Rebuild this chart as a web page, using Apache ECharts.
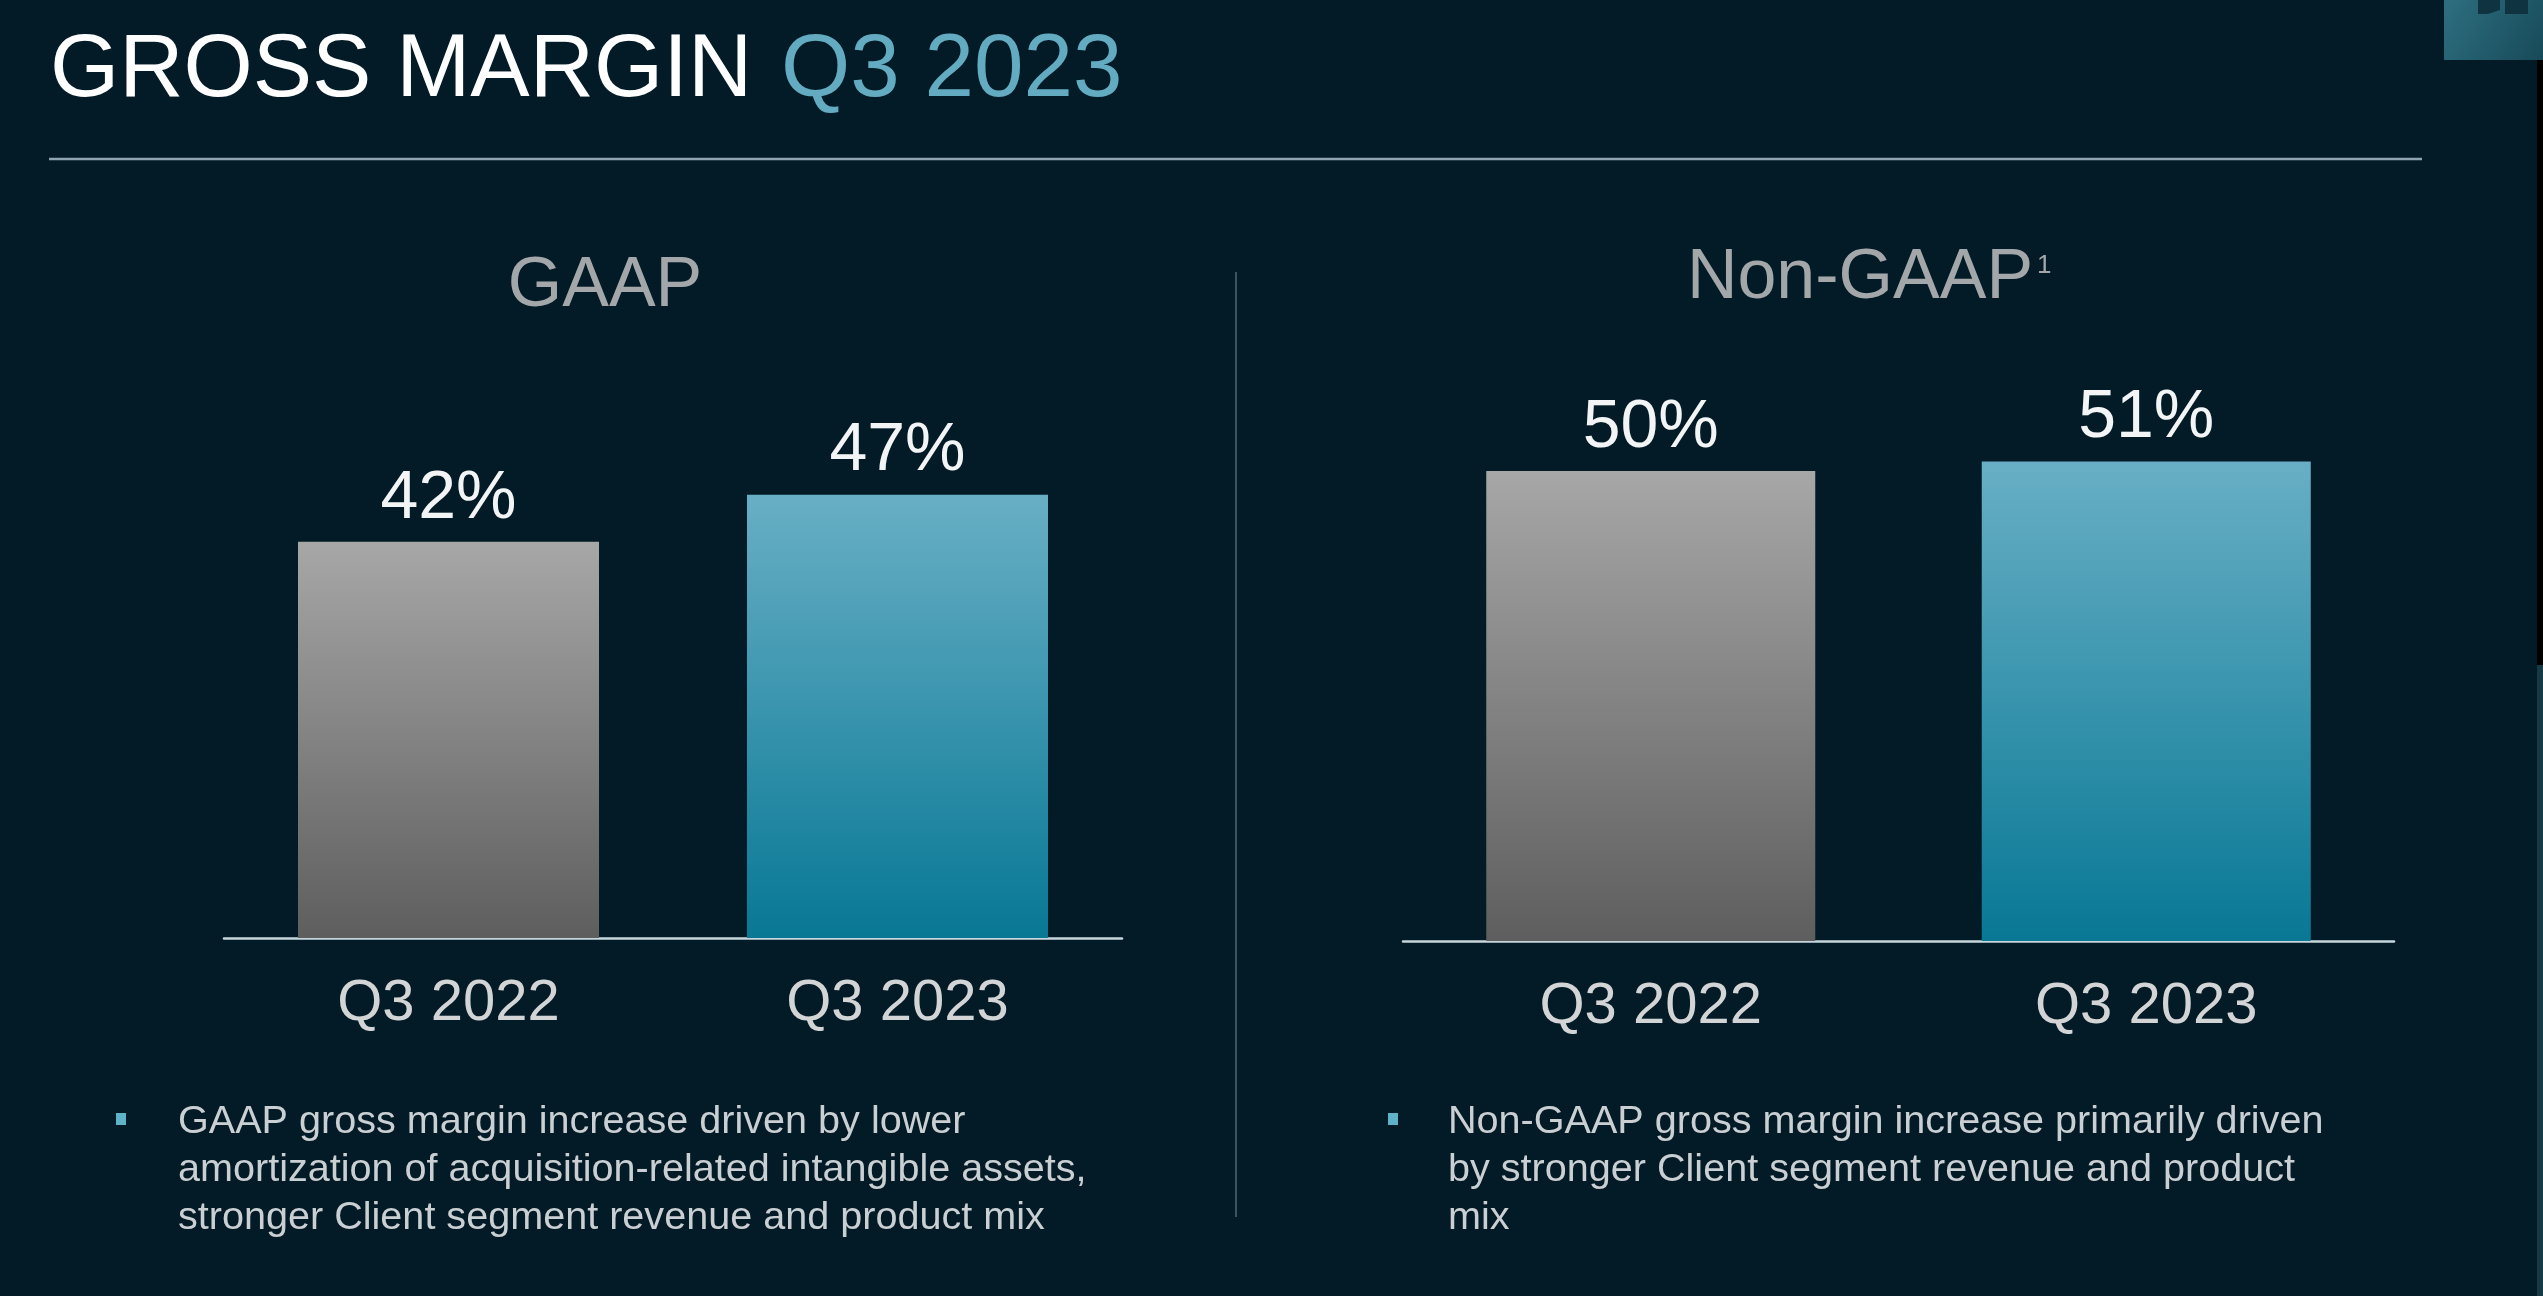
<!DOCTYPE html>
<html>
<head>
<meta charset="utf-8">
<script src="https://cdn.jsdelivr.net/npm/echarts@6/dist/echarts.min.js"></script>
<style>
html,body{margin:0;padding:0;background:#021b26;}
#chart{width:2543px;height:1296px;}
</style>
</head>
<body>
<div id="chart"></div>
<script>
const categories = ['Q3 2022', 'Q3 2023'];
const gaapValues = [42, 47];
const nonGaapValues = [50, 51];
const panelTitles = ['GAAP', 'Non-GAAP'];
const bulletLeft = ['GAAP gross margin increase driven by lower', 'amortization of acquisition-related intangible assets,', 'stronger Client segment revenue and product mix'];
const bulletRight = ['Non-GAAP gross margin increase primarily driven', 'by stronger Client segment revenue and product', 'mix'];

const FONT = "'Liberation Sans', Arial, sans-serif";
const grayGrad = new echarts.graphic.LinearGradient(0, 0, 0, 1, [{offset: 0, color: '#a7a7a7'}, {offset: 1, color: '#5e5e5e'}]);
const tealGrad = new echarts.graphic.LinearGradient(0, 0, 0, 1, [{offset: 0, color: '#68afc5'}, {offset: 1, color: '#087895'}]);
const barFills = [grayGrad, tealGrad];

function items(vals) {
  return vals.map((v, i) => ({value: v, itemStyle: {color: barFills[i]}}));
}

const chart = echarts.init(document.getElementById('chart'), null, {renderer: 'canvas'});

function lineTexts(lines, x, y0, step) {
  return lines.map((t, i) => ({
    type: 'text', silent: true,
    style: {x: x, y: y0 + i * step, text: t, fill: '#c9cfd2', font: '39.6px ' + FONT, verticalAlign: 'middle', align: 'left'}
  }));
}

const axisCommon = {
  axisLine: {show: true, lineStyle: {color: '#c6d6dd', width: 2.5}},
  axisTick: {show: false},
  axisLabel: {color: '#d2d4d5', fontSize: 58, fontFamily: FONT, margin: 37},
  splitLine: {show: false}
};

const option = {
  backgroundColor: '#021b26',
  animation: false,
  grid: [
    {left: 224, width: 898, top: 372, height: 566},
    {left: 1403, width: 991, top: 377, height: 564}
  ],
  xAxis: [
    Object.assign({type: 'category', data: categories, gridIndex: 0}, axisCommon),
    Object.assign({type: 'category', data: categories, gridIndex: 1}, axisCommon)
  ],
  yAxis: [
    {type: 'value', gridIndex: 0, min: 0, max: 60, show: false},
    {type: 'value', gridIndex: 1, min: 0, max: 60, show: false}
  ],
  series: [
    {
      type: 'bar', xAxisIndex: 0, yAxisIndex: 0, barWidth: 301,
      data: items(gaapValues),
      label: {show: true, position: 'top', distance: 9, formatter: '{c}%', color: '#f2f4f5', fontSize: 68, fontFamily: FONT}
    },
    {
      type: 'bar', xAxisIndex: 1, yAxisIndex: 1, barWidth: 329,
      data: items(nonGaapValues),
      label: {show: true, position: 'top', distance: 9, formatter: '{c}%', color: '#f2f4f5', fontSize: 68, fontFamily: FONT}
    }
  ],
  graphic: [
    {type: 'text', silent: true, style: {x: 50, y: 71, text: 'GROSS MARGIN', fill: '#ffffff', font: '89px ' + FONT, verticalAlign: 'middle'}},
    {type: 'text', silent: true, style: {x: 781, y: 71, text: 'Q3 2023', fill: '#62abc0', font: '89px ' + FONT, verticalAlign: 'middle'}},
    {type: 'line', silent: true, shape: {x1: 49, y1: 159, x2: 2422, y2: 159}, style: {stroke: '#8ea4b0', lineWidth: 2.5}},
    {type: 'text', silent: true, style: {x: 605, y: 287, text: panelTitles[0], fill: '#a3a7a9', font: '70px ' + FONT, verticalAlign: 'middle', align: 'center'}},
    {type: 'text', silent: true, style: {x: 1860, y: 279, text: panelTitles[1], fill: '#a3a7a9', font: '70px ' + FONT, verticalAlign: 'middle', align: 'center'}},
    {type: 'text', silent: true, style: {x: 2037, y: 266, text: '1', fill: '#a3a7a9', font: '26px ' + FONT, verticalAlign: 'middle', align: 'left'}},
    {type: 'line', silent: true, shape: {x1: 1236, y1: 272, x2: 1236, y2: 1217}, style: {stroke: '#3a5461', lineWidth: 2}},
    {type: 'rect', silent: true, shape: {x: 116, y: 1113, width: 10, height: 12}, style: {fill: '#5fb3c8'}},
    {type: 'rect', silent: true, shape: {x: 1388, y: 1113, width: 10, height: 12}, style: {fill: '#5fb3c8'}},
    ...lineTexts(bulletLeft, 178, 1122, 48),
    ...lineTexts(bulletRight, 1448, 1122, 48),
    {type: 'rect', silent: true, shape: {x: 2444, y: 0, width: 99, height: 60},
      style: {fill: new echarts.graphic.LinearGradient(0, 0, 1, 1, [{offset: 0, color: '#2e6f80'}, {offset: 1, color: '#174a59'}])}},
    {type: 'polygon', silent: true, shape: {points: [[2478, 0], [2500, 0], [2500, 10], [2488, 14], [2478, 14]]}, style: {fill: '#0f3340'}},
    {type: 'polygon', silent: true, shape: {points: [[2505, 0], [2528, 0], [2528, 14], [2505, 14]]}, style: {fill: '#0f3340'}},
    {type: 'rect', silent: true, shape: {x: 2537, y: 60, width: 6, height: 605}, style: {fill: '#000000'}},
    {type: 'rect', silent: true, shape: {x: 2537, y: 665, width: 6, height: 631}, style: {fill: '#163a45'}}
  ]
};
chart.setOption(option);
</script>
</body>
</html>
